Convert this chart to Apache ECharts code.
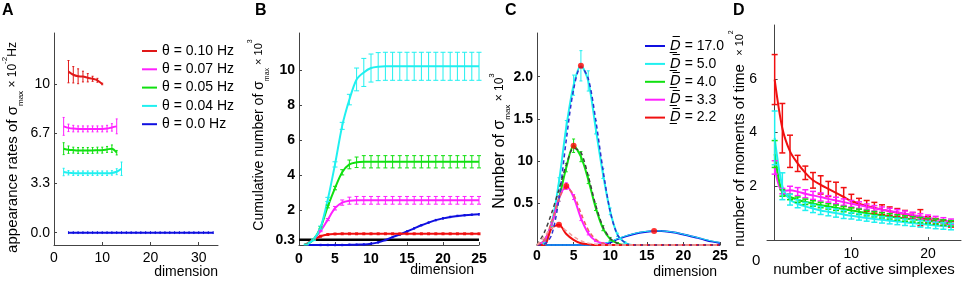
<!DOCTYPE html>
<html lang="en">
<head>
<meta charset="UTF-8">
<title>simplex figure</title>
<style>
  html, body { margin: 0; padding: 0; background: #fff; }
  #chart { width: 964px; height: 282px; }
</style>
</head>
<body>
<div id="chart"></div>
<script src="https://cdn.jsdelivr.net/npm/echarts@6.0.0/dist/echarts.min.js"></script>
<script>
  // ---- panel A: appearance rates per dimension ----
  var aNames = ['θ = 0.10 Hz', 'θ = 0.07 Hz', 'θ = 0.05 Hz', 'θ = 0.04 Hz', 'θ = 0.0 Hz']
  var aRedX = [3, 4, 5, 6, 7, 8, 9, 10]
  var aRedY = [10.83, 10.62, 10.52, 10.5, 10.42, 10.35, 10.25, 10.0]
  var aRedErr = [0.75, 0.55, 0.5, 0.36, 0.28, 0.17, 0.13, 0.05]
  var aMagX = [2, 3, 4, 5, 6, 7, 8, 9, 10, 11, 12, 13]
  var aMagY = [7.15, 7.05, 7.0, 6.98, 6.98, 6.98, 6.98, 6.98, 6.98, 7.0, 7.08, 7.15]
  var aMagErr = [0.6, 0.25, 0.22, 0.2, 0.2, 0.2, 0.2, 0.2, 0.2, 0.22, 0.25, 0.5]
  var aGreenX = [2, 3, 4, 5, 6, 7, 8, 9, 10, 11, 12, 13]
  var aGreenY = [5.65, 5.58, 5.55, 5.53, 5.53, 5.53, 5.53, 5.55, 5.55, 5.6, 5.65, 5.38]
  var aGreenErr = [0.4, 0.25, 0.2, 0.2, 0.2, 0.2, 0.2, 0.2, 0.2, 0.2, 0.25, 0.15]
  var aCyanX = [2, 3, 4, 5, 6, 7, 8, 9, 10, 11, 12, 13, 14]
  var aCyanY = [4.08, 4.03, 4.0, 4.0, 4.0, 4.0, 4.0, 4.0, 4.0, 4.0, 4.02, 4.1, 4.3]
  var aCyanErr = [0.25, 0.15, 0.15, 0.15, 0.15, 0.15, 0.15, 0.15, 0.15, 0.15, 0.15, 0.2, 0.45]
  var aBlueX = [3, 4, 5, 6, 7, 8, 9, 10, 11, 12, 13, 14, 15, 16, 17, 18, 19, 20, 21, 22, 23, 24, 25, 26, 27, 28, 29, 30, 31, 32, 33]
  var aBlueY = [0, 0, 0, 0, 0, 0, 0, 0, 0, 0, 0, 0, 0, 0, 0, 0, 0, 0, 0, 0, 0, 0, 0, 0, 0, 0, 0, 0, 0, 0, 0]
  var aBlueErr = [0.06, 0.06, 0.06, 0.06, 0.06, 0.06, 0.06, 0.06, 0.06, 0.06, 0.06, 0.06, 0.06, 0.06, 0.06, 0.06, 0.06, 0.06, 0.06, 0.06, 0.06, 0.06, 0.06, 0.06, 0.06, 0.06, 0.06, 0.06, 0.06, 0.06, 0.06]
  var aTicks = [0, 3.333, 6.667, 10]
  var aTickLabels = ['0.0', '3.3', '6.7', '10']

  // ---- panel B: cumulative number ----
  var bX = [1, 2, 3, 4, 5, 6, 7, 8, 9, 10, 11, 12, 13, 14, 15, 16, 17, 18, 19, 20, 21, 22, 23, 24, 25]
  var bCyan = [0.03, 0.3, 1.0, 2.6, 4.6, 6.8, 8.3, 9.45, 9.85, 10.1, 10.18, 10.2, 10.2, 10.2, 10.2, 10.2, 10.2, 10.2, 10.2, 10.2, 10.2, 10.2, 10.2, 10.2, 10.2]
  var bCyanErr = [0.02, 0.05, 0.08, 0.12, 0.15, 0.2, 0.3, 0.65, 0.8, 0.8, 0.8, 0.8, 0.8, 0.8, 0.8, 0.8, 0.8, 0.8, 0.8, 0.8, 0.8, 0.8, 0.8, 0.8, 0.8]
  var bGreen = [0.03, 0.3, 1.0, 2.2, 3.25, 4.15, 4.6, 4.72, 4.75, 4.75, 4.75, 4.75, 4.75, 4.75, 4.75, 4.75, 4.75, 4.75, 4.75, 4.75, 4.75, 4.75, 4.75, 4.75, 4.75]
  var bGreenErr = [0.02, 0.03, 0.05, 0.08, 0.1, 0.15, 0.25, 0.3, 0.35, 0.35, 0.35, 0.35, 0.35, 0.35, 0.35, 0.35, 0.35, 0.35, 0.35, 0.35, 0.35, 0.35, 0.35, 0.35, 0.35]
  var bMag = [0.03, 0.3, 0.8, 1.45, 2.1, 2.42, 2.53, 2.55, 2.55, 2.55, 2.55, 2.55, 2.55, 2.55, 2.55, 2.55, 2.55, 2.55, 2.55, 2.55, 2.55, 2.55, 2.55, 2.55, 2.55]
  var bMagErr = [0.01, 0.02, 0.04, 0.06, 0.1, 0.15, 0.2, 0.22, 0.22, 0.22, 0.22, 0.22, 0.22, 0.22, 0.22, 0.22, 0.22, 0.22, 0.22, 0.22, 0.22, 0.22, 0.22, 0.22, 0.22]
  var bRed = [0.05, 0.3, 0.5, 0.6, 0.63, 0.64, 0.64, 0.64, 0.64, 0.64, 0.64, 0.64, 0.64, 0.64, 0.64, 0.64, 0.64, 0.64, 0.64, 0.64, 0.64, 0.64, 0.64, 0.64, 0.64]
  var bRedErr = [0.02, 0.03, 0.04, 0.04, 0.04, 0.04, 0.04, 0.04, 0.04, 0.04, 0.04, 0.04, 0.04, 0.04, 0.04, 0.04, 0.04, 0.04, 0.04, 0.04, 0.04, 0.04, 0.04, 0.04, 0.04]
  var bBlue = [0, 0, 0, 0, 0, 0, 0.01, 0.02, 0.03, 0.07, 0.15, 0.28, 0.45, 0.6, 0.77, 0.95, 1.13, 1.28, 1.42, 1.52, 1.6, 1.66, 1.7, 1.73, 1.75]
  var bThreshold = [0.3, 0.3]
  var bThresholdX = [0, 25]
  var bTicks = [0.3, 2, 4, 6, 8, 10]

  // ---- panel C: number of sigma_max per dimension ----
  var cNames = ['D17', 'D5', 'D4', 'D33', 'D22']
  var cLabels = ['17.0', '5.0', '4.0', '3.3', '2.2']
  var cX = [0, 1, 2, 3, 4, 5, 6, 7, 8, 9, 10, 11, 12, 13, 14, 15, 16, 17, 18, 19, 20, 21, 22, 23, 24, 25]
  var cBlue = [0, 0, 0, 0, 0, 0, 0, 0, 0, 0.01, 0.03, 0.07, 0.1, 0.125, 0.145, 0.158, 0.165, 0.165, 0.158, 0.145, 0.125, 0.105, 0.085, 0.06, 0.04, 0.025]
  var cBlueFit = [0, 0, 0, 0, 0, 0, 0, 0, 0, 0.015, 0.04, 0.075, 0.105, 0.13, 0.15, 0.162, 0.168, 0.167, 0.16, 0.147, 0.128, 0.108, 0.087, 0.065, 0.045, 0.03]
  var cCyan = [0, 0.02, 0.25, 0.75, 1.4, 1.9, 2.13, 1.95, 1.4, 0.85, 0.4, 0.12, 0.03, 0, 0, 0, 0, 0, 0, 0, 0, 0, 0, 0, 0, 0]
  var cCyanErr = [0, 0.01, 0.03, 0.05, 0.08, 0.12, 0.18, 0.12, 0.08, 0.06, 0.04, 0.02, 0.01, 0, 0, 0, 0, 0, 0, 0, 0, 0, 0, 0, 0, 0]
  var cCyanFit = [0, 0.01, 0.12, 0.55, 1.25, 1.85, 2.12, 1.98, 1.5, 0.9, 0.4, 0.12, 0.03, 0, 0, 0, 0, 0, 0, 0, 0, 0, 0, 0, 0, 0]
  var cGreen = [0, 0.05, 0.25, 0.55, 0.92, 1.18, 1.05, 0.78, 0.45, 0.2, 0.07, 0.02, 0, 0, 0, 0, 0, 0, 0, 0, 0, 0, 0, 0, 0, 0]
  var cGreenErr = [0, 0.01, 0.02, 0.03, 0.05, 0.08, 0.06, 0.05, 0.04, 0.03, 0.02, 0.01, 0, 0, 0, 0, 0, 0, 0, 0, 0, 0, 0, 0, 0, 0]
  var cGreenFit = [0, 0.15, 0.38, 0.66, 0.95, 1.15, 1.1, 0.82, 0.48, 0.22, 0.08, 0.02, 0, 0, 0, 0, 0, 0, 0, 0, 0, 0, 0, 0, 0, 0]
  var cMag = [0, 0.05, 0.25, 0.55, 0.7, 0.57, 0.32, 0.14, 0.05, 0.02, 0, 0, 0, 0, 0, 0, 0, 0, 0, 0, 0, 0, 0, 0, 0, 0]
  var cMagErr = [0, 0.01, 0.02, 0.03, 0.04, 0.03, 0.03, 0.02, 0.01, 0.01, 0, 0, 0, 0, 0, 0, 0, 0, 0, 0, 0, 0, 0, 0, 0, 0]
  var cMagFit = [0, 0.06, 0.28, 0.55, 0.68, 0.6, 0.38, 0.18, 0.07, 0.02, 0, 0, 0, 0, 0, 0, 0, 0, 0, 0, 0, 0, 0, 0, 0, 0]
  var cRed = [0, 0, 0.2, 0.24, 0.13, 0.06, 0.02, 0.01, 0, 0, 0, 0, 0, 0, 0, 0, 0, 0, 0, 0, 0, 0, 0, 0, 0, 0]
  var cRedFit = [0, 0.1, 0.2, 0.22, 0.17, 0.1, 0.05, 0.02, 0.01, 0, 0, 0, 0, 0, 0, 0, 0, 0, 0, 0, 0, 0, 0, 0, 0, 0]
  var cPeakX = [6, 5, 4, 3, 16]
  var cPeakY = [2.13, 1.18, 0.7, 0.24, 0.165]
  var cTicks = [0.5, 1.0, 1.5, 2.0]
  var cTickLabels = ['0.5', '10', '1.5', '2.0']

  // ---- panel D: moments of time vs active simplexes ----
  var dX = [0, 1, 2, 3, 4, 5, 6, 7, 8, 9, 10, 11, 12, 13, 14, 15, 16, 17, 18, 19, 20, 21, 22, 23]
  var dRed = [5.97, 4.16, 3.3, 2.85, 2.5, 2.22, 2.05, 1.9, 1.75, 1.6, 1.45, 1.35, 1.27, 1.2, 1.13, 1.07, 1.02, 0.96, 0.9, 0.83, 0.76, 0.7, 0.64, 0.58]
  var dRedErr = [0.93, 0.92, 0.6, 0.3, 0.25, 0.29, 0.34, 0.28, 0.4, 0.35, 0.25, 0.2, 0.2, 0.2, 0.18, 0.16, 0.15, 0.14, 0.12, 0.3, 0.12, 0.1, 0.1, 0.1]
  var dMag = [2.7, 1.82, 1.85, 1.8, 1.72, 1.66, 1.6, 1.53, 1.47, 1.41, 1.35, 1.3, 1.24, 1.18, 1.13, 1.08, 1.03, 0.98, 0.93, 0.88, 0.83, 0.78, 0.73, 0.68]
  var dMagErr = [0.25, 0.1, 0.15, 0.15, 0.15, 0.15, 0.15, 0.12, 0.12, 0.12, 0.12, 0.12, 0.1, 0.1, 0.1, 0.1, 0.1, 0.1, 0.1, 0.1, 0.1, 0.1, 0.1, 0.1]
  var dGreen = [3.2, 1.75, 1.6, 1.5, 1.42, 1.36, 1.3, 1.25, 1.2, 1.15, 1.1, 1.05, 1.0, 0.96, 0.92, 0.88, 0.84, 0.8, 0.77, 0.74, 0.71, 0.68, 0.65, 0.62]
  var dGreenErr = [0.5, 0.12, 0.1, 0.1, 0.1, 0.1, 0.1, 0.1, 0.1, 0.1, 0.1, 0.1, 0.1, 0.1, 0.1, 0.1, 0.1, 0.1, 0.1, 0.1, 0.1, 0.1, 0.1, 0.1]
  var dCyan = [3.8, 2.0, 1.5, 1.35, 1.25, 1.17, 1.1, 1.05, 1.0, 0.95, 0.9, 0.86, 0.82, 0.78, 0.75, 0.72, 0.69, 0.66, 0.63, 0.6, 0.57, 0.54, 0.52, 0.5]
  var dCyanErr = [1.0, 0.5, 0.2, 0.15, 0.15, 0.15, 0.15, 0.15, 0.15, 0.15, 0.12, 0.12, 0.12, 0.12, 0.12, 0.12, 0.12, 0.12, 0.12, 0.12, 0.12, 0.12, 0.12, 0.12]
  var dTicksY = [2, 4, 6]
  var dTicksX = [0, 10, 20]

  var RED = '#f01010', MAG = '#ff20ff', GREEN = '#10e010', CYAN = '#20f0f0', BLUE = '#1010e0'
  var FONT = 'Liberation Sans'

  function pairs(xs, ys) {
    return xs.map(function (x, i) { return [x, ys[i]] })
  }

  function line(name, xs, ys, color, gi, extra) {
    var s = {
      type: 'line', name: name, xAxisIndex: gi, yAxisIndex: gi,
      data: pairs(xs, ys), showSymbol: false, smooth: 0.3, clip: false,
      lineStyle: { color: color, width: 2 }, itemStyle: { color: color },
      emphasis: { disabled: true }, z: 3
    }
    for (var k in extra) s[k] = extra[k]
    return s
  }

  function errBars(xs, ys, errs, color, gi, cap, width) {
    var data = []
    for (var i = 0; i < xs.length; i++) {
      if (errs[i] > 0) data.push([xs[i], ys[i] - errs[i], ys[i] + errs[i]])
    }
    return {
      type: 'custom', xAxisIndex: gi, yAxisIndex: gi, data: data, z: 4,
      encode: { x: 0, y: [1, 2] }, clip: false,
      renderItem: function (params, api) {
        var lo = api.coord([api.value(0), api.value(1)])
        var hi = api.coord([api.value(0), api.value(2)])
        var w = cap / 2
        var st = { stroke: color, lineWidth: width }
        return {
          type: 'group', children: [
            { type: 'line', shape: { x1: lo[0], y1: lo[1], x2: hi[0], y2: hi[1] }, style: st },
            { type: 'line', shape: { x1: lo[0] - w, y1: lo[1], x2: lo[0] + w, y2: lo[1] }, style: st },
            { type: 'line', shape: { x1: hi[0] - w, y1: hi[1], x2: hi[0] + w, y2: hi[1] }, style: st }
          ]
        }
      }
    }
  }

  function nameRich(big, mid, small) {
    return {
      t: { fontSize: big, fontFamily: FONT, color: '#000', lineHeight: 20 },
      m: { fontSize: mid, fontFamily: FONT, color: '#000', lineHeight: 20 },
      s: { fontSize: small, fontFamily: FONT, color: '#000', verticalAlign: 'bottom', lineHeight: 16 },
      p: { fontSize: small, fontFamily: FONT, color: '#000', verticalAlign: 'top', lineHeight: 24 }
    }
  }

  function yAxis(gi, min, max, ticks, labels, opt) {
    return {
      type: 'value', gridIndex: gi, min: min, max: max,
      name: opt.name, nameLocation: 'middle', nameRotate: 90, nameGap: opt.gap,
      nameMoveOverlap: false,
      nameTextStyle: { rich: opt.rich, padding: opt.pad || 0 },
      axisLine: { show: true, lineStyle: { color: '#444', width: 1 } },
      axisTick: { show: true, inside: true, length: 3, customValues: ticks, lineStyle: { color: '#444' } },
      axisLabel: {
        customValues: ticks, margin: opt.margin, fontSize: 14, fontFamily: FONT,
        fontWeight: opt.bold ? 'bold' : 'normal', color: '#000',
        formatter: function (v) {
          for (var i = 0; i < ticks.length; i++) if (Math.abs(ticks[i] - v) < 1e-6) return labels[i]
          return ''
        }
      },
      splitLine: { show: false }
    }
  }

  function xAxis(gi, min, max, ticks, labels, opt) {
    return {
      type: 'value', gridIndex: gi, min: min, max: max,
      name: opt.name, nameLocation: opt.loc, nameGap: opt.gap,
      nameMoveOverlap: false,
      nameTextStyle: opt.nameStyle,
      axisLine: { show: true, onZero: false, lineStyle: { color: '#444', width: 1 } },
      axisTick: { show: true, inside: true, length: 3, customValues: ticks, lineStyle: { color: '#444' } },
      axisLabel: {
        customValues: ticks, margin: opt.margin, fontSize: 14, fontFamily: FONT,
        fontWeight: opt.bold ? 'bold' : 'normal', color: '#000',
        formatter: function (v) {
          for (var i = 0; i < ticks.length; i++) if (Math.abs(ticks[i] - v) < 1e-6) return labels[i]
          return ''
        }
      },
      splitLine: { show: false }
    }
  }

  var endName = function (down, left) {
    return { fontSize: 14, fontFamily: FONT, color: '#000', align: 'right', verticalAlign: 'top', padding: [down, left, 0, 0] }
  }

  var series = [
    // A
    line(aNames[0], aRedX, aRedY, '#e01818', 0),
    errBars(aRedX, aRedY, aRedErr, '#e01818', 0, 2, 1),
    line(aNames[1], aMagX, aMagY, MAG, 0),
    errBars(aMagX, aMagY, aMagErr, MAG, 0, 2, 1),
    line(aNames[2], aGreenX, aGreenY, GREEN, 0),
    errBars(aGreenX, aGreenY, aGreenErr, GREEN, 0, 2, 1),
    line(aNames[3], aCyanX, aCyanY, CYAN, 0),
    errBars(aCyanX, aCyanY, aCyanErr, CYAN, 0, 2, 1),
    line(aNames[4], aBlueX, aBlueY, BLUE, 0),
    errBars(aBlueX, aBlueY, aBlueErr, BLUE, 0, 1, 1),
    // B
    line('b-thr', bThresholdX, bThreshold, '#000', 1, { smooth: false, lineStyle: { color: '#000', width: 2.5 }, z: 2 }),
    line('b-blue', bX, bBlue, BLUE, 1),
    errBars(bX, bBlue, bRedErr, BLUE, 1, 2, 1),
    line('b-red', bX, bRed, RED, 1),
    errBars(bX, bRed, bRedErr, RED, 1, 3, 1.5),
    line('b-mag', bX, bMag, MAG, 1),
    errBars(bX, bMag, bMagErr, MAG, 1, 4, 1),
    line('b-green', bX, bGreen, GREEN, 1),
    errBars(bX, bGreen, bGreenErr, GREEN, 1, 4, 1),
    line('b-cyan', bX, bCyan, CYAN, 1),
    errBars(bX, bCyan, bCyanErr, CYAN, 1, 5, 1),
    // C
    line(cNames[0], cX, cBlue, BLUE, 2),
    line('c-bfit', cX, cBlueFit, CYAN, 2, { lineStyle: { color: CYAN, width: 1 } }),
    line(cNames[1], cX, cCyan, CYAN, 2),
    errBars(cX, cCyan, cCyanErr, CYAN, 2, 3, 1),
    line(cNames[2], cX, cGreen, GREEN, 2),
    errBars(cX, cGreen, cGreenErr, GREEN, 2, 3, 1),
    line(cNames[3], cX, cMag, MAG, 2),
    errBars(cX, cMag, cMagErr, MAG, 2, 3, 1),
    line(cNames[4], cX, cRed, RED, 2),
    line('c-cfit', cX, cCyanFit, '#3030d0', 2, { lineStyle: { color: '#3030d0', width: 1.5, type: [4, 3] }, z: 5 }),
    line('c-gfit', cX, cGreenFit, '#404040', 2, { lineStyle: { color: '#404040', width: 1.5, type: [4, 3] }, z: 5 }),
    line('c-mfit', cX, cMagFit, '#f06060', 2, { lineStyle: { color: '#f06060', width: 1.5, type: [4, 3] }, z: 5 }),
    line('c-rfit', cX, cRedFit, '#f0a0a0', 2, { lineStyle: { color: '#f0a0a0', width: 1.5, type: [4, 3] }, z: 5 }),
    {
      type: 'scatter', xAxisIndex: 2, yAxisIndex: 2, data: pairs(cPeakX, cPeakY),
      symbolSize: 6, itemStyle: { color: '#ff0000' }, z: 6, emphasis: { disabled: true }
    },
    // D
    line('d-red', dX, dRed, RED, 3),
    errBars(dX, dRed, dRedErr, RED, 3, 6, 1.5),
    line('d-mag', dX, dMag, MAG, 3),
    errBars(dX, dMag, dMagErr, MAG, 3, 6, 1.5),
    line('d-green', dX, dGreen, GREEN, 3),
    errBars(dX, dGreen, dGreenErr, GREEN, 3, 6, 1.5),
    line('d-cyan', dX, dCyan, CYAN, 3),
    errBars(dX, dCyan, dCyanErr, CYAN, 3, 6, 1.5)
  ]

  var option = {
    animation: false,
    backgroundColor: '#fff',
    textStyle: { fontFamily: FONT },
    grid: [
      { left: 48, top: 33, width: 170, height: 212 },
      { left: 299, top: 33, width: 180, height: 212 },
      { left: 537, top: 33, width: 183, height: 212 },
      { left: 767, top: 25, width: 194, height: 217.5 }
    ],
    xAxis: [
      xAxis(0, 0, 34, [0, 10, 20, 30], ['0', '10', '20', '30'], { name: 'dimension', loc: 'end', gap: 0, margin: 6, nameStyle: endName(20, 0) }),
      xAxis(1, 0, 25, [0, 5, 10, 15, 20, 25], ['0', '5', '10', '15', '20', '25'], { name: 'dimension', loc: 'end', gap: 0, margin: 7, bold: true, nameStyle: endName(18, 5) }),
      xAxis(2, 0, 25, [0, 5, 10, 15, 20, 25], ['0', '5', '10', '15', '20', '25'], { name: 'dimension', loc: 'end', gap: 0, margin: 4, bold: true, nameStyle: endName(20, 3) }),
      xAxis(3, -1, 24.3, dTicksX, ['', '10', '20'], { name: 'number of active simplexes', loc: 'middle', gap: 22, margin: 7, nameStyle: { fontSize: 15, fontFamily: FONT, color: '#000', verticalAlign: 'top' } })
    ],
    yAxis: [
      yAxis(0, -0.83, 13.43, aTicks, aTickLabels, { name: '{t|appearance rates of σ}{s|max}{m| × 10}{p|-2}{m|Hz}', rich: nameRich(15, 12, 8), gap: 29, margin: 4, pad: [0, 17, 0, 0] }),
      yAxis(1, 0, 12.1, bTicks, ['0.3', '2', '4', '6', '8', '10'], { name: '{t|Cumulative number of σ}{s|max}{m| × 10}{p|3}', rich: nameRich(14, 11, 7), gap: 28, margin: 4, bold: true, pad: [0, 0, 0, 8] }),
      yAxis(2, 0, 2.52, cTicks, cTickLabels, { name: '{t|Number of σ}{s|max}{m| × 10}{p|3}', rich: nameRich(16, 12, 8), gap: 25, margin: 4, bold: true, pad: [0, 4, 0, 0] }),
      yAxis(3, 0, 8, dTicksY, ['2', '4', '6'], { name: '{t|number of moments of time  }{m|× 10}{p|2}', rich: nameRich(15, 11, 7), gap: 15, margin: 10, pad: [0, 12, 0, 0] })
    ],
    legend: [
      {
        data: aNames, orient: 'vertical', left: 137, top: 38, icon: 'rect',
        itemWidth: 15, itemHeight: 2, itemGap: 2.3, selectedMode: false,
        textStyle: { fontSize: 14, fontFamily: FONT, color: '#000', lineHeight: 16 }
      },
      {
        data: cNames, orient: 'vertical', left: 640, top: 33, icon: 'rect',
        itemWidth: 20, itemHeight: 2, itemGap: 1.9, selectedMode: false,
        formatter: function (name) {
          return '{d|D\u0305\u0332}{t| = ' + cLabels[cNames.indexOf(name)] + '}'
        },
        textStyle: {
          fontSize: 14, fontFamily: FONT, color: '#000', lineHeight: 16,
          rich: {
            d: { fontSize: 14, fontFamily: 'DejaVu Sans', fontStyle: 'italic', color: '#000', lineHeight: 16 },
            t: { fontSize: 14, fontFamily: FONT, color: '#000', lineHeight: 16 }
          }
        }
      }
    ],
    graphic: [
      { type: 'text', left: 2, top: 3, style: { text: 'A', font: 'bold 16px ' + FONT, fill: '#000' } },
      { type: 'text', left: 255, top: 3, style: { text: 'B', font: 'bold 16px ' + FONT, fill: '#000' } },
      { type: 'text', left: 505, top: 3, style: { text: 'C', font: 'bold 16px ' + FONT, fill: '#000' } },
      { type: 'text', left: 733, top: 3, style: { text: 'D', font: 'bold 16px ' + FONT, fill: '#000' } },
      { type: 'text', left: 752, top: 253, style: { text: '0', font: '15px ' + FONT, fill: '#000' } }
    ],
    series: series
  }

  var myChart = echarts.init(document.getElementById('chart'))
  myChart.setOption(option)
</script>
</body>
</html>
